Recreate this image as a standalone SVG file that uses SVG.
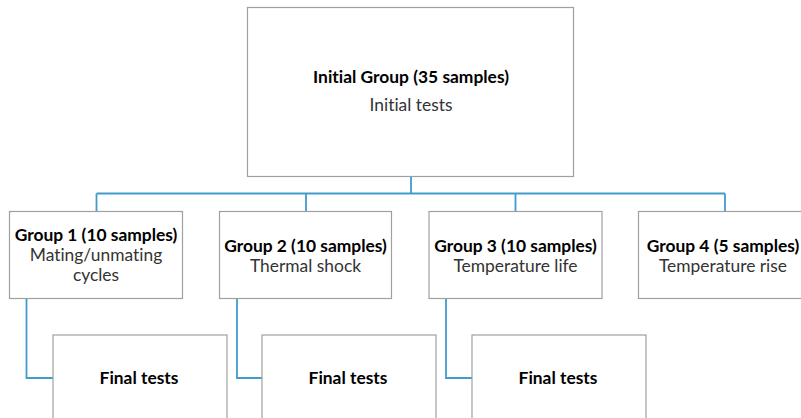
<svg xmlns="http://www.w3.org/2000/svg" width="801" height="418" viewBox="0 0 801 418">
<style>
.box{fill:#fff;stroke:#a0a0a0;stroke-width:1.2}
.conn{fill:none;stroke:#3f9ccb;stroke-width:1.8}
.t{font-family:Lato,"Open Sans",sans-serif;font-size:17.4px;font-weight:bold;fill:#000;text-anchor:middle;font-variant-ligatures:none}
.s{font-family:Lato,"Open Sans",sans-serif;font-size:17.4px;fill:#333;text-anchor:middle;font-variant-ligatures:none}
</style>
<rect width="801" height="418" fill="#fff"/>
<g id="connectors">
<path class="conn" d="M411 176V193.5M96.5 193.5H725M96.5 193.5V212M306 193.5V212M515.5 193.5V212M725 193.5V212"/>
<path class="conn" d="M26.5 298V378H53"/>
<path class="conn" d="M237 298V378H262"/>
<path class="conn" d="M446 298V378H472"/>
</g>
<g id="initial">
<rect class="box" x="247.5" y="7.5" width="326" height="169"/>
<text class="t" x="411" y="83">Initial Group (35 samples)</text>
<text class="s" x="411" y="110.5">Initial tests</text>
</g>
<g id="group1">
<rect class="box" x="9.5" y="211.5" width="173" height="87"/>
<text class="t" x="96" y="240.5">Group 1 (10 samples)</text>
<text class="s" x="96" y="260.5">Mating/unmating</text>
<text class="s" x="96" y="280.5">cycles</text>
</g>
<g id="group2">
<rect class="box" x="219.5" y="211.5" width="172" height="87"/>
<text class="t" x="305.5" y="251.5">Group 2 (10 samples)</text>
<text class="s" x="305.5" y="271.5">Thermal shock</text>
</g>
<g id="group3">
<rect class="box" x="429" y="211.5" width="173" height="87"/>
<text class="t" x="515.5" y="251.5">Group 3 (10 samples)</text>
<text class="s" x="515.5" y="271.5">Temperature life</text>
</g>
<g id="group4">
<rect class="box" x="638.5" y="211.5" width="173" height="87"/>
<text class="t" x="723" y="251.5">Group 4 (5 samples)</text>
<text class="s" x="723" y="271.5">Temperature rise</text>
</g>
<g id="final1">
<rect class="box" x="53" y="335" width="174" height="100"/>
<text class="t" x="139" y="384">Final tests</text>
</g>
<g id="final2">
<rect class="box" x="262" y="335" width="174" height="100"/>
<text class="t" x="348" y="384">Final tests</text>
</g>
<g id="final3">
<rect class="box" x="472" y="335" width="174" height="100"/>
<text class="t" x="558" y="384">Final tests</text>
</g>
</svg>
